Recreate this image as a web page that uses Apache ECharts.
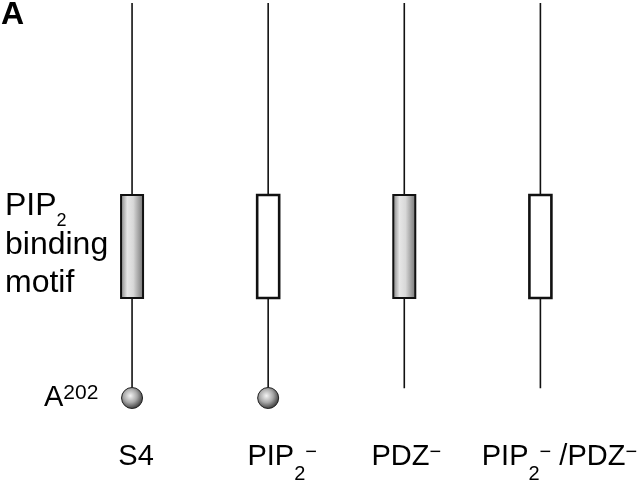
<!DOCTYPE html>
<html>
<head>
<meta charset="utf-8">
<script src="https://cdn.jsdelivr.net/npm/echarts@6/dist/echarts.min.js"></script>
<style>
  html, body { margin: 0; padding: 0; background: #fff; }
  #main { width: 640px; height: 488px; }
</style>
</head>
<body>
<div id="main"></div>
<script>
// constructs, left to right
var constructs = ['S4', 'PIP2-', 'PDZ-', 'PIP2-/PDZ-'];
var constructLabels = [
    '{g1|}{n|S4}',
    '{g2|}{n|PIP}{sub|2}{sup|−}',
    '{g3|}{n|PDZ}{sup|−}',
    '{g4|}{n|PIP}{sub|2}{sup|−}{n| /PDZ}{sup|−}'
];
// vertical extent of each molecule (0 = A202, 100 = top of figure)
var stemTop = [100, 100, 100, 100];
var stemBottom = [0, 0, 2.5, 2.5];
// PIP2 binding motif box, 1 = intact (shaded), 0 = mutated (open)
var motifTop = [51.4, 51.4, 51.4, 51.4];
var motifBottom = [25.3, 25.3, 25.3, 25.3];
var motifIntact = [1, 0, 1, 0];
// A202 residue, '-' where it is removed
var a202 = [0, 0, '-', '-'];

var font = '"Liberation Sans", Arial, Helvetica, sans-serif';

var chart = echarts.init(document.getElementById('main'));

var molData = constructs.map(function (c, i) {
    return [i, stemTop[i], stemBottom[i], motifTop[i], motifBottom[i], motifIntact[i]];
});

function renderMolecule(params, api) {
    var x = api.value(0);
    var top = api.coord([x, api.value(1)]);
    var bot = api.coord([x, api.value(2)]);
    var bt = api.coord([x, api.value(3)]);
    var bb = api.coord([x, api.value(4)]);
    var w = 22;
    var shaded = api.value(5) === 1;
    var fill = shaded ? new echarts.graphic.LinearGradient(0, 0, 1, 0, [
        { offset: 0, color: '#7a7a7a' },
        { offset: 0.3, color: '#e6e6e6' },
        { offset: 0.55, color: '#d8d8d8' },
        { offset: 1, color: '#6e6e6e' }
    ]) : '#fff';
    return {
        type: 'group',
        children: [{
            type: 'line',
            shape: { x1: top[0], y1: top[1], x2: bot[0], y2: bot[1] },
            style: { stroke: '#111', lineWidth: 1.6 }
        }, {
            type: 'rect',
            shape: { x: bt[0] - w / 2, y: bt[1], width: w, height: bb[1] - bt[1] },
            style: { fill: fill, stroke: '#111', lineWidth: shaded ? 2 : 2.6 }
        }]
    };
}

var option = {
    animation: false,
    backgroundColor: '#fff',
    textStyle: { fontFamily: font },
    grid: { left: 64, right: 31, top: 3, bottom: 90 },
    xAxis: {
        type: 'category',
        data: constructs,
        boundaryGap: true,
        axisLine: { show: false },
        axisTick: { show: false },
        splitLine: { show: false },
        axisLabel: {
            margin: 44,
            interval: 0,
            formatter: function (v, i) { return constructLabels[i]; },
            rich: {
                n: { fontSize: 29, lineHeight: 30, verticalAlign: 'top', color: '#000', fontFamily: font },
                // subscript: pushed down below the baseline
                sub: { fontSize: 20, lineHeight: 20, padding: [22, 0, 0, 0], verticalAlign: 'top', color: '#000', fontFamily: font },
                sup: { fontSize: 20, lineHeight: 20, verticalAlign: 'top', color: '#000', fontFamily: font },
                g1: { width: 8 },
                g2: { width: 28 },
                g3: { width: 4 },
                g4: { width: 38 }
            }
        }
    },
    yAxis: { type: 'value', min: 0, max: 100, show: false },
    graphic: [
        { type: 'text', x: 1, y: -1, style: { text: 'A', font: 'bold 32px ' + font, fill: '#000' } },
        {
            type: 'text', x: 5, y: 190,
            style: {
                text: '{n|PIP}{s|2}',
                rich: {
                    n: { fontSize: 32, lineHeight: 34, verticalAlign: 'top', fontFamily: font, fill: '#000' },
                    s: { fontSize: 18, lineHeight: 18, padding: [22, 0, 0, 0], verticalAlign: 'top', fontFamily: font, fill: '#000' }
                }
            }
        },
        { type: 'text', x: 5, y: 229, style: { text: 'binding', font: '32px ' + font, fill: '#000' } },
        { type: 'text', x: 5, y: 267, style: { text: 'motif', font: '32px ' + font, fill: '#000' } },
        {
            type: 'text', x: 44, y: 383,
            style: {
                text: '{n|A}{s|202}',
                rich: {
                    n: { fontSize: 29, lineHeight: 30, verticalAlign: 'top', fontFamily: font, fill: '#000' },
                    s: { fontSize: 21, lineHeight: 21, verticalAlign: 'top', fontFamily: font, fill: '#000' }
                }
            }
        }
    ],
    series: [{
        type: 'custom',
        name: 'molecule',
        renderItem: renderMolecule,
        data: molData,
        z: 2
    }, {
        type: 'scatter',
        name: 'A202',
        data: a202,
        symbol: 'circle',
        symbolSize: 21,
        z: 3,
        itemStyle: {
            color: new echarts.graphic.RadialGradient(0.42, 0.4, 0.62, [
                { offset: 0, color: '#f4f4f4' },
                { offset: 0.5, color: '#a8a8a8' },
                { offset: 1, color: '#333' }
            ]),
            borderColor: '#222',
            borderWidth: 1,
            opacity: 1
        }
    }]
};

chart.setOption(option);
</script>
</body>
</html>
